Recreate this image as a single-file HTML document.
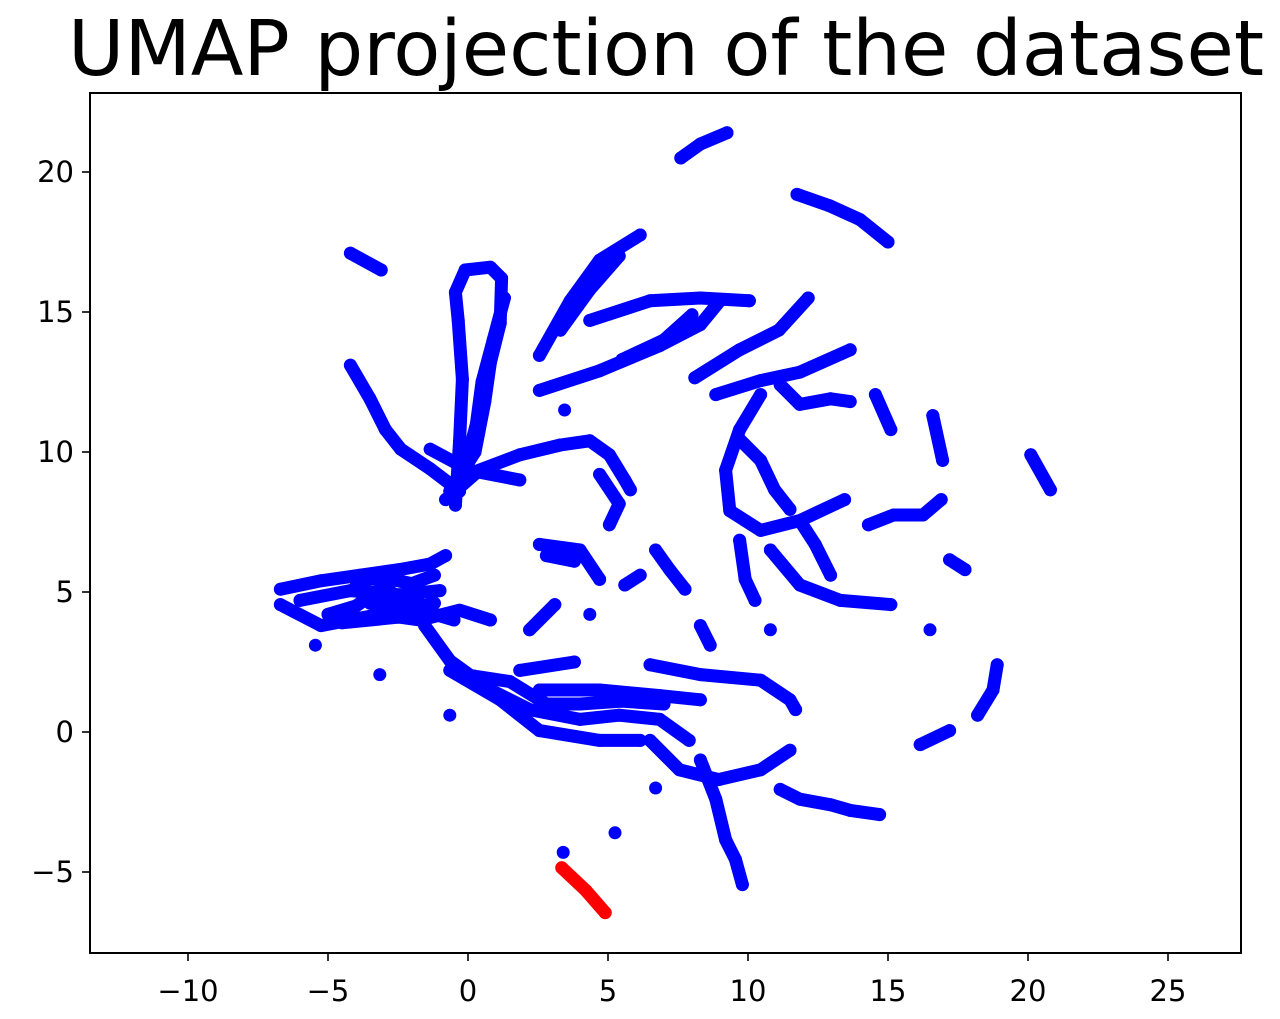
<!DOCTYPE html>
<html><head><meta charset="utf-8"><style>
body{margin:0;background:#fff;}
svg{display:block;font-family:"DejaVu Sans","Liberation Sans",sans-serif;}
</style></head><body>
<svg id="chart" width="1280" height="1019" xmlns="http://www.w3.org/2000/svg">
<text x="666" y="75" font-size="77" text-anchor="middle" fill="#000">UMAP projection of the dataset</text>
<g id="marks"></g>
<rect x="90" y="93" width="1151" height="860" fill="none" stroke="#000" stroke-width="2"/>
<g id="axes"></g>
</svg>
<script>
const xTicks=[-10,-5,0,5,10,15,20,25];
const yTicks=[-5,0,5,10,15,20];
const blueStrands=[
[[7.6,20.5],[8.3,21.0],[9.25,21.4]],
[[11.75,19.2],[12.9,18.8],[14.0,18.3],[15.0,17.5]],
[[-4.2,17.1],[-3.1,16.5]],
[[-0.45,8.1],[-0.3,10.4],[-0.2,12.6],[-0.35,14.7],[-0.45,15.7],[-0.1,16.5],[0.8,16.6],[1.2,16.2],[1.15,14.6],[0.8,13.2],[0.6,11.8],[0.25,10.0],[-0.65,8.6]],
[[-0.1,9.5],[0.3,11.0],[0.5,12.5],[0.9,14.0],[1.3,15.5]],
[[-4.2,13.1],[-3.5,11.9],[-2.95,10.8],[-2.4,10.1],[-1.35,9.4],[-0.3,8.6]],
[[-0.8,8.3],[0.4,9.35],[1.85,9.9],[3.3,10.25],[4.35,10.4],[5.05,9.9],[5.6,9.0],[5.8,8.65]],
[[4.7,9.2],[5.4,8.15],[5.05,7.4]],
[[-1.35,10.1],[0.05,9.35],[1.85,9.0]],
[[2.55,13.45],[3.65,15.4],[4.7,16.85],[6.15,17.75]],
[[3.3,14.35],[4.35,15.8],[5.4,17.0]],
[[2.55,12.2],[4.7,12.9],[6.85,13.8],[8.3,14.55],[9.0,15.4]],
[[5.5,13.3],[7.0,14.0],[8.0,14.9]],
[[4.35,14.7],[6.5,15.4],[8.3,15.5],[10.05,15.4]],
[[8.1,12.65],[9.7,13.65],[11.1,14.35],[12.15,15.5]],
[[8.85,12.05],[10.45,12.55],[11.85,12.85],[13.65,13.65]],
[[11.15,12.4],[11.85,11.7],[12.95,11.9],[13.65,11.8]],
[[10.45,12.05],[9.7,10.8],[9.2,9.35],[9.35,7.9],[10.45,7.2],[11.85,7.55],[13.45,8.3]],
[[9.7,10.45],[10.45,9.7],[10.95,8.65],[11.5,7.95]],
[[14.55,12.05],[15.1,10.8]],
[[16.6,11.3],[16.95,9.7]],
[[14.3,7.4],[15.2,7.75],[16.25,7.75],[16.9,8.3]],
[[20.1,9.9],[20.8,8.65]],
[[17.2,6.15],[17.75,5.8]],
[[11.85,7.55],[12.4,6.7],[12.95,5.6]],
[[10.8,6.5],[11.85,5.25],[13.3,4.7],[15.1,4.55]],
[[9.7,6.85],[9.9,5.45],[10.25,4.7]],
[[10.8,3.65]],
[[8.3,3.8],[8.65,3.1]],
[[6.7,6.5],[7.2,5.8],[7.75,5.1]],
[[2.55,6.7],[4.0,6.5],[4.7,5.45]],
[[2.8,6.3],[3.8,6.1]],
[[5.6,5.25],[6.15,5.6]],
[[2.2,3.65],[3.1,4.55]],
[[-6.7,5.1],[-5.25,5.4],[-3.85,5.6],[-2.45,5.8],[-1.35,6.0],[-0.8,6.3]],
[[-6.7,4.55],[-5.25,3.8],[-3.15,4.2],[-1.7,4.0],[-0.3,4.35],[0.8,4.0]],
[[-6.0,4.7],[-4.2,5.05],[-2.45,4.9],[-1.0,5.05]],
[[-5.0,4.2],[-4.0,4.5],[-3.0,5.2],[-2.0,4.4],[-1.2,4.6]],
[[-4.5,3.9],[-3.5,4.0],[-2.5,4.1],[-1.5,4.3],[-0.5,4.0]],
[[-4.0,5.4],[-3.0,5.5],[-2.0,5.3],[-1.2,5.6]],
[[-3.5,4.6],[-2.5,4.5],[-1.8,4.8]],
[[-1.55,3.8],[-0.65,2.55],[0.8,1.5],[2.2,0.8],[4.0,0.45],[5.4,0.6],[6.85,0.45],[7.9,-0.3]],
[[-0.65,2.2],[1.15,1.15],[2.55,0.05],[4.7,-0.3],[6.15,-0.3]],
[[0.2,2.0],[1.5,1.8],[2.8,1.0],[4.0,1.0],[5.5,1.1],[7.0,1.0]],
[[1.85,2.2],[3.8,2.5]],
[[2.55,1.5],[4.7,1.5],[6.85,1.3],[8.3,1.15]],
[[6.5,2.4],[8.3,2.05],[10.45,1.85],[11.5,1.15],[11.7,0.8]],
[[6.5,-0.3],[7.55,-1.35],[8.95,-1.7],[10.45,-1.35],[11.5,-0.65]],
[[8.3,-1.0],[8.85,-2.4],[9.2,-3.85],[9.55,-4.55],[9.8,-5.45]],
[[11.15,-2.05],[11.85,-2.4],[12.95,-2.6],[13.65,-2.8],[14.7,-2.95]],
[[18.9,2.4],[18.75,1.5],[18.2,0.6]],
[[16.15,-0.45],[17.2,0.05]],
[[16.5,3.65]],
[[-3.15,2.05]],[[-0.65,0.6]],[[3.45,11.5]],[[4.35,4.2]],[[5.25,-3.6]],[[6.7,-2.0]],[[3.4,-4.3]],[[-5.45,3.1]]
];
const redStrands=[
[[3.35,-4.85],[4.2,-5.65],[4.9,-6.45]]
];
const NS="http://www.w3.org/2000/svg";
const xScale=v=>468+v*28;
const yScale=v=>732-v*28;
const marks=document.getElementById('marks');
const axes=document.getElementById('axes');
function drawStrands(strands,color,label){
  strands.forEach(function(s,i){
    if(s.length>1){
      const p=document.createElementNS(NS,'path');
      
      
      p.setAttribute('d',s.map((pt,j)=>(j?'L':'M')+xScale(pt[0])+' '+yScale(pt[1])).join(' '));
      p.setAttribute('fill','none');p.setAttribute('stroke',color);
      p.setAttribute('stroke-width','13');p.setAttribute('stroke-linecap','round');p.setAttribute('stroke-linejoin','round');
      marks.appendChild(p);
    }
    s.forEach(function(pt){
      const c=document.createElementNS(NS,'circle');
      
      
      c.setAttribute('cx',xScale(pt[0]));c.setAttribute('cy',yScale(pt[1]));
      c.setAttribute('r','6.5');c.setAttribute('fill',color);
      marks.appendChild(c);
    });
  });
}
drawStrands(blueStrands,'#0000ff','blue');
drawStrands(redStrands,'#ff0000','red');
xTicks.forEach(function(v){
  const l=document.createElementNS(NS,'line');
  
  
  l.setAttribute('x1',xScale(v));l.setAttribute('x2',xScale(v));l.setAttribute('y1',953);l.setAttribute('y2',961);l.setAttribute('stroke','#000');l.setAttribute('stroke-width','1.6');
  axes.appendChild(l);
  const t=document.createElementNS(NS,'text');
  
  
  t.setAttribute('x',xScale(v));t.setAttribute('y',1001);t.setAttribute('font-size','29');t.setAttribute('text-anchor','middle');
  t.textContent=(v<0?'\u2212':'')+Math.abs(v);
  axes.appendChild(t);
});
yTicks.forEach(function(v){
  const l=document.createElementNS(NS,'line');
  
  
  l.setAttribute('x1',82);l.setAttribute('x2',90);l.setAttribute('y1',yScale(v));l.setAttribute('y2',yScale(v));l.setAttribute('stroke','#000');l.setAttribute('stroke-width','1.6');
  axes.appendChild(l);
  const t=document.createElementNS(NS,'text');
  
  
  t.setAttribute('x',74);t.setAttribute('y',yScale(v)+10);t.setAttribute('font-size','29');t.setAttribute('text-anchor','end');
  t.textContent=(v<0?'\u2212':'')+Math.abs(v);
  axes.appendChild(t);
});
</script>
</body></html>
